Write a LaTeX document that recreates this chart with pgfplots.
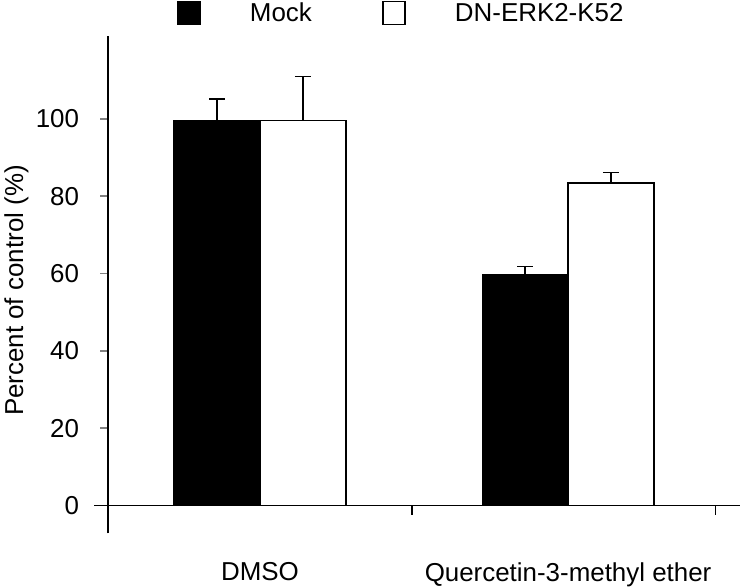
\documentclass[border=0pt]{standalone}
\usepackage{pgfplots}
\pgfplotsset{compat=1.18}
\usepackage{fontspec}
\setmainfont{Liberation Sans}

\begin{document}
\begin{tikzpicture}
\pgfplotsset{
  sqleg/.style={legend image code/.code={
    \draw[##1, line width=1.2pt] (0pt,-8.6pt) rectangle (16.5pt,8.6pt);}},
}
\begin{axis}[
  scale only axis,
  width=475.5pt, height=374.25pt,
  xmin=-0.5, xmax=1.582,
  ymin=-7.22, ymax=121.49,
  axis lines*=left,
  x axis line style={draw=none},
  y axis line style={line width=1.2pt},
  clip=false,
  font=\fontsize{19.5}{23}\selectfont,
  /pgf/number format/assume math mode=true,
  ytick={0,20,...,100},
  tick align=outside,
  ytick style={line width=1.2pt},
  major tick length=6pt,
  yticklabel style={anchor=east, inner sep=0pt, xshift=-15.75pt},
  xtick={0,1.015},
  xticklabels={DMSO, Quercetin-3-methyl ether},
  xtick style={draw=none},
  xticklabel style={anchor=north, inner sep=0pt, yshift=-16pt},
  ylabel={Percent of control (\%)},
  ylabel style={at={(axis description cs:-0.1451,0.488)}, anchor=center},
  legend columns=2,
  legend style={draw=none, fill=none, inner sep=0pt,
    at={(axis description cs:0.1088,1.046)}, anchor=west,
    /tikz/every odd column/.append style={column sep=35pt},
    /tikz/every even column/.append style={column sep=51pt}},
  error bars/y dir=plus,
  error bars/y explicit,
  error bars/error mark options={rotate=90, mark size=6pt, line width=1.2pt},
  error bars/error bar style={line width=1.2pt, black},
]
% bars placed at their own centres: DMSO pair at 0, Quercetin pair at 1.015
\addplot[ybar, bar width=0.2824, bar shift=0, fill=black, draw=black,
  line width=1.2pt, sqleg]
  coordinates {(-0.1412,99.6) +- (0,5.6) (0.8738,59.8) +- (0,2.0)};
\addlegendentry{Mock}
\addplot[ybar, bar width=0.2824, bar shift=0, fill=white, draw=black,
  line width=1.2pt, sqleg]
  coordinates {(0.1412,99.6) +- (0,11.4) (1.1562,83.5) +- (0,2.6)};
\addlegendentry{DN-ERK2-K52}
% x axis line at zero, with its ticks
\draw[line width=1.2pt] (axis cs:-0.546,0) -- (axis cs:1.582,0);
\draw[line width=1.2pt] (axis cs:0.5,0) -- (axis cs:0.5,-2.58);
\draw[line width=1.2pt] (axis cs:1.5,0) -- (axis cs:1.5,-2.58);
\path (axis cs:-0.851,130.77) rectangle (axis cs:1.582,-20.63);
\end{axis}
\end{tikzpicture}
\end{document}
